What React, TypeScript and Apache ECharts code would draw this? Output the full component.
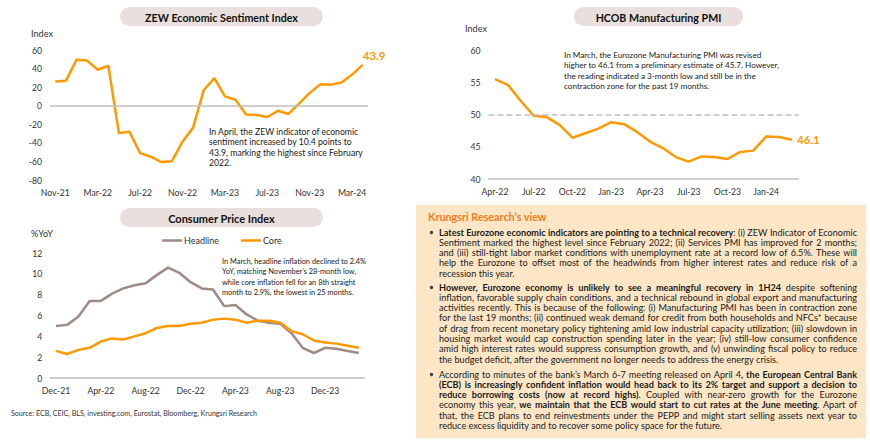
import React, { useEffect, useRef } from 'react';
import * as echarts from 'echarts';

// ---------------- DATA ----------------
const zewMonths = ['Nov-21','Dec-21','Jan-22','Feb-22','Mar-22','Apr-22','May-22','Jun-22','Jul-22','Aug-22','Sep-22','Oct-22','Nov-22','Dec-22','Jan-23','Feb-23','Mar-23','Apr-23','May-23','Jun-23','Jul-23','Aug-23','Sep-23','Oct-23','Nov-23','Dec-23','Jan-24','Feb-24','Mar-24','Apr-24'];
const zewValues = [26.0, 26.8, 49.4, 48.6, 38.7, 43.0, -29.5, -28.0, -51.1, -54.9, -60.7, -59.7, -38.7, -23.6, 16.7, 29.7, 10.0, 6.4, -9.4, -10.0, -12.2, -5.5, -8.9, 2.3, 13.8, 23.0, 22.7, 25.0, 33.5, 43.9];

const pmiMonths = ['Apr-22','May-22','Jun-22','Jul-22','Aug-22','Sep-22','Oct-22','Nov-22','Dec-22','Jan-23','Feb-23','Mar-23','Apr-23','May-23','Jun-23','Jul-23','Aug-23','Sep-23','Oct-23','Nov-23','Dec-23','Jan-24','Feb-24','Mar-24'];
const pmiValues = [55.5, 54.6, 52.1, 49.8, 49.6, 48.4, 46.4, 47.1, 47.8, 48.8, 48.5, 47.3, 45.8, 44.8, 43.4, 42.7, 43.5, 43.4, 43.1, 44.2, 44.4, 46.6, 46.5, 46.1];

const cpiMonths = ['Dec-21','Jan-22','Feb-22','Mar-22','Apr-22','May-22','Jun-22','Jul-22','Aug-22','Sep-22','Oct-22','Nov-22','Dec-22','Jan-23','Feb-23','Mar-23','Apr-23','May-23','Jun-23','Jul-23','Aug-23','Sep-23','Oct-23','Nov-23','Dec-23','Jan-24','Feb-24','Mar-24'];
const cpiHeadline = [5.0, 5.1, 5.9, 7.4, 7.4, 8.1, 8.6, 8.9, 9.1, 9.9, 10.6, 10.1, 9.2, 8.6, 8.5, 6.9, 7.0, 6.1, 5.5, 5.3, 5.2, 4.3, 2.9, 2.4, 2.9, 2.8, 2.6, 2.4];
const cpiCore = [2.6, 2.3, 2.7, 2.9, 3.5, 3.8, 3.7, 4.0, 4.3, 4.8, 5.0, 5.0, 5.2, 5.3, 5.6, 5.7, 5.6, 5.3, 5.5, 5.5, 5.3, 4.5, 4.2, 3.6, 3.4, 3.3, 3.1, 2.9];

const titles = ['ZEW Economic Sentiment Index', 'HCOB Manufacturing PMI', 'Consumer Price Index'];
const zewNote = ['In April, the ZEW indicator of economic', 'sentiment increased by 10.4 points to', '43.9, marking the highest since February', '2022.'];
const pmiNote = ['In March, the Eurozone Manufacturing PMI was revised', 'higher to 46.1 from a preliminary estimate of 45.7. However,', 'the reading indicated a 3-month low and still be in the', 'contraction zone for the past 19 months.'];
const cpiNote = ['In March, headline inflation declined to 2.4%', 'YoY, matching November\u2019s 28-month low,', 'while core inflation fell for an 8th straight', 'month to 2.9%, the lowest in 25 months.'];
const sourceText = 'Source: ECB, CEIC, BLS, investing.com, Eurostat, Bloomberg, Krungsri Research';
const viewTitle = 'Krungsri Research\u2019s view';

type Seg = [string, boolean];
const bullet1: Seg[][] = [
  [['Latest Eurozone economic indicators are pointing to a technical recovery', true], [': (i) ZEW Indicator of Economic', false]],
  [['Sentiment marked the highest level since February 2022; (ii) Services PMI has improved for 2 months;', false]],
  [['and (iii) still-tight labor market conditions with unemployment rate at a record low of 6.5%. These will', false]],
  [['help the Eurozone to offset most of the headwinds from higher interest rates and reduce risk of a', false]],
  [['recession this year.', false]],
];
const bullet2: Seg[][] = [
  [['However, Eurozone economy is unlikely to see a meaningful recovery in 1H24', true], [' despite softening', false]],
  [['inflation, favorable supply chain conditions, and a technical rebound in global export and manufacturing', false]],
  [['activities recently. This is because of the following: (i) Manufacturing PMI has been in contraction zone', false]],
  [['for the last 19 months; (ii) continued weak demand for credit from both households and NFCs* because', false]],
  [['of drag from recent monetary policy tightening amid low industrial capacity utilization; (iii) slowdown in', false]],
  [['housing market would cap construction spending later in the year; (iv) still-low consumer confidence', false]],
  [['amid high interest rates would suppress consumption growth, and (v) unwinding fiscal policy to reduce', false]],
  [['the budget deficit, after the government no longer needs to address the energy crisis.', false]],
];
const bullet3: Seg[][] = [
  [['According to minutes of the bank\u2019s March 6-7 meeting released on April 4', false], [', the European Central Bank', true]],
  [['(ECB) is increasingly confident inflation would head back to its 2% target and support a decision to', true]],
  [['reduce borrowing costs (now at record highs)', true], ['. Coupled with near-zero growth for the Eurozone', false]],
  [['economy this year, ', false], ['we maintain that the ECB would start to cut rates at the June meeting', true], ['. Apart of', false]],
  [['that, the ECB plans to end reinvestments under the PEPP and might start selling assets next year to', false]],
  [['reduce excess liquidity and to recover some policy space for the future.', false]],
];
const bullets = [bullet1, bullet2, bullet3];

// ---------------- STYLE ----------------
const FONT = 'Lato';
const ORANGE = '#FF9900';
const HEAD = '#9E8A86';
const GRID_GRAY = '#BFBFBF';
const TXT = '#1a1a1a';
const AX = '#333333';
const PILL = '#E9DFDC';
const BOX = '#FDE6C6';
const TITLE_ORANGE = '#EF7D1F';

let ctx: CanvasRenderingContext2D | null = null;
function measure(text: string, size: number, bold: boolean): number {
  if (!ctx) ctx = document.createElement('canvas').getContext('2d');
  ctx!.font = `${bold ? 'bold ' : ''}${size}px ${FONT}`;
  return ctx!.measureText(text).width;
}
function fit(text: string, bold: boolean, target: number): number {
  return (10 * target) / measure(text, 10, bold);
}

function txt(x: number, y: number, text: string, size: number, o: any = {}) {
  const align = o.align || 'left';
  return {
    type: 'text', x, y, silent: true, z: 10,
    style: {
      text, fontSize: size, fontFamily: FONT, fontWeight: o.bold ? 'bold' : 'normal',
      fill: o.color || TXT, textAlign: align, align, textVerticalAlign: 'middle', verticalAlign: 'middle',
    },
  };
}

type Piece = { t: string; b: boolean };
function toWords(segs: Seg[]): Piece[][] {
  const words: Piece[][] = [];
  let cur: Piece[] = [];
  for (const [text, b] of segs) {
    const parts = text.split(' ');
    parts.forEach((p, i) => {
      if (i > 0) { if (cur.length) words.push(cur); cur = []; }
      if (p) cur.push({ t: p, b });
    });
  }
  if (cur.length) words.push(cur);
  return words;
}
function naturalWidth(segs: Seg[], size: number) {
  const words = toWords(segs);
  const sp = measure(' ', size, false);
  let w = 0;
  words.forEach((wd) => wd.forEach((p) => (w += measure(p.t, size, p.b))));
  return w + sp * (words.length - 1);
}
function layoutLine(segs: Seg[], x: number, y: number, width: number, size: number, justify: boolean, out: any[]) {
  const words = toWords(segs);
  const ww = words.map((w) => w.reduce((s, p) => s + measure(p.t, size, p.b), 0));
  const total = ww.reduce((a, b) => a + b, 0);
  let gap = measure(' ', size, false);
  if (justify && words.length > 1) gap = (width - total) / (words.length - 1);
  let cx = x;
  words.forEach((w, i) => {
    let px = cx;
    w.forEach((p) => {
      out.push(txt(px, y, p.t, size, { bold: p.b }));
      px += measure(p.t, size, p.b);
    });
    cx += ww[i] + gap;
  });
}

function buildOption() {
  const g: any[] = [];
  // title pills
  const pills = [
    { x: 120, y: 7, w: 203, h: 19, tw: 153 },
    { x: 574, y: 7, w: 169, h: 19, tw: 126 },
    { x: 120, y: 208, w: 203, h: 19, tw: 107 },
  ];
  pills.forEach((p, i) => {
    g.push({ type: 'rect', shape: { x: p.x, y: p.y, width: p.w, height: p.h, r: 9.5 }, style: { fill: PILL }, silent: true, z: 1 });
    g.push(txt(p.x + p.w / 2, p.y + p.h / 2 + 0.5, titles[i], fit(titles[i], true, p.tw), { bold: true, align: 'center', color: '#111111' }));
  });
  const unitSize = fit('Index', false, 22);
  g.push(txt(31, 33, 'Index', unitSize, { color: AX }));
  g.push(txt(465, 28, 'Index', unitSize, { color: AX }));
  g.push(txt(31, 233, '%YoY', unitSize, { color: AX }));

  const notes = [
    { lines: zewNote, x: 209, y: 131, ref: 2, tw: 154 },
    { lines: pmiNote, x: 564, y: 54.5, ref: 1, tw: 216 },
    { lines: cpiNote, x: 222, y: 261, ref: 0, tw: 144 },
  ];
  notes.forEach((n) => {
    const s = fit(n.lines[n.ref], false, n.tw);
    n.lines.forEach((l, i) => g.push(txt(n.x, n.y + i * 10.6, l, s)));
  });
  g.push(txt(11, 413, sourceText, fit(sourceText, false, 246), { color: AX }));

  // Research view box
  g.push({ type: 'rect', shape: { x: 416, y: 205, width: 450, height: 233 }, style: { fill: BOX }, silent: true, z: 1 });
  g.push(txt(428, 216, viewTitle, fit(viewTitle, true, 119), { bold: true, color: TITLE_ORANGE }));
  const TX = 439, TW = 418, LH = 10.3;
  let ratio = Infinity;
  bullets.forEach((b) => b.forEach((line, i) => {
    if (i < b.length - 1) ratio = Math.min(ratio, TW / naturalWidth(line, 10));
  }));
  const bodySize = Math.min(9.6, 10 * ratio);
  const starts = [232, 287, 374];
  bullets.forEach((b, bi) => {
    g.push({ type: 'circle', shape: { cx: 431.5, cy: starts[bi] + 0.5, r: 1.7 }, style: { fill: '#404040' }, silent: true, z: 10 });
    b.forEach((line, i) => layoutLine(line, TX, starts[bi] + i * LH, TW, bodySize, i < b.length - 1, g));
  });

  const axSize = fit('Nov-21', false, 29);
  const xAx = (gi: number, data: string[], interval: number, showLine: boolean) => ({
    type: 'category', gridIndex: gi, data, boundaryGap: true,
    axisTick: { show: false },
    axisLine: { show: showLine, onZero: false, lineStyle: { color: GRID_GRAY, width: 1.5 } },
    axisLabel: { interval, color: AX, fontSize: axSize, fontFamily: FONT, margin: 8 },
  });
  const yAx = (gi: number, min: number, max: number, interval: number) => ({
    type: 'value', gridIndex: gi, min, max, interval,
    splitLine: { show: false }, axisLine: { show: false }, axisTick: { show: false },
    axisLabel: { color: AX, fontSize: axSize, fontFamily: FONT, margin: 8 },
  });

  const refLine = (xi: number, data: number[], yv: number, type: string) => ({
    type: 'line', name: 'ref' + xi, xAxisIndex: xi, yAxisIndex: xi, data, symbol: 'none', silent: true, z: 1,
    lineStyle: { opacity: 0 },
    markLine: { silent: true, symbol: ['none', 'none'], label: { show: false }, lineStyle: { color: GRID_GRAY, width: 1.5, type }, data: [{ yAxis: yv }] },
  });
  const endLbl = (offset: number[]) => ({
    show: true, formatter: (p: any) => String(p.value), color: ORANGE, fontWeight: 'bold', fontSize: 11.5, fontFamily: FONT, distance: 5, offset,
  });

  return {
    animation: false,
    backgroundColor: '#ffffff',
    textStyle: { fontFamily: FONT },
    grid: [
      { left: 50, top: 50, width: 318, height: 130 },
      { left: 488.5, top: 50, width: 310, height: 129 },
      { left: 50.4, top: 253, width: 314, height: 125 },
    ],
    xAxis: [xAx(0, zewMonths, 3, false), xAx(1, pmiMonths, 2, true), xAx(2, cpiMonths, 3, true)],
    yAxis: [yAx(0, -80, 60, 20), yAx(1, 40, 60, 5), yAx(2, 0, 12, 2)],
    legend: {
      data: [{ name: 'Headline', icon: 'rect' }, { name: 'Core', icon: 'rect' }],
      left: 162, top: 236, padding: 0, itemWidth: 20, itemHeight: 2.5, itemGap: 22,
      textStyle: { fontSize: fit('Headline', false, 35), color: AX, fontFamily: FONT, padding: [0, 0, 0, -3] },
    },
    series: [
      refLine(0, zewValues, 0, 'solid'),
      {
        type: 'line', name: 'ZEW', xAxisIndex: 0, yAxisIndex: 0, symbol: 'none', z: 3,
        lineStyle: { color: ORANGE, width: 2.5 }, itemStyle: { color: ORANGE },
        data: zewValues,
        endLabel: endLbl([-5, -9]),
      },
      refLine(1, pmiValues, 50, 'dashed'),
      {
        type: 'line', name: 'PMI', xAxisIndex: 1, yAxisIndex: 1, symbol: 'none', z: 3,
        lineStyle: { color: ORANGE, width: 2.5 }, itemStyle: { color: ORANGE },
        data: pmiValues,
        endLabel: endLbl([0, 0]),
      },
      {
        type: 'line', name: 'Headline', xAxisIndex: 2, yAxisIndex: 2, symbol: 'none', z: 3,
        lineStyle: { color: HEAD, width: 2.5 }, itemStyle: { color: HEAD }, data: cpiHeadline,
      },
      {
        type: 'line', name: 'Core', xAxisIndex: 2, yAxisIndex: 2, symbol: 'none', z: 3,
        lineStyle: { color: ORANGE, width: 2.5 }, itemStyle: { color: ORANGE }, data: cpiCore,
      },
    ],
    graphic: { elements: g },
  };
}

export default function App() {
  const ref = useRef<HTMLDivElement>(null);
  useEffect(() => {
    const chart = echarts.init(ref.current!, undefined, { renderer: 'svg' });
    chart.setOption(buildOption() as any);
    return () => chart.dispose();
  }, []);
  return <div ref={ref} style={{ position: 'absolute', left: 0, top: 0, width: 870, height: 447, background: '#fff' }} />;
}
